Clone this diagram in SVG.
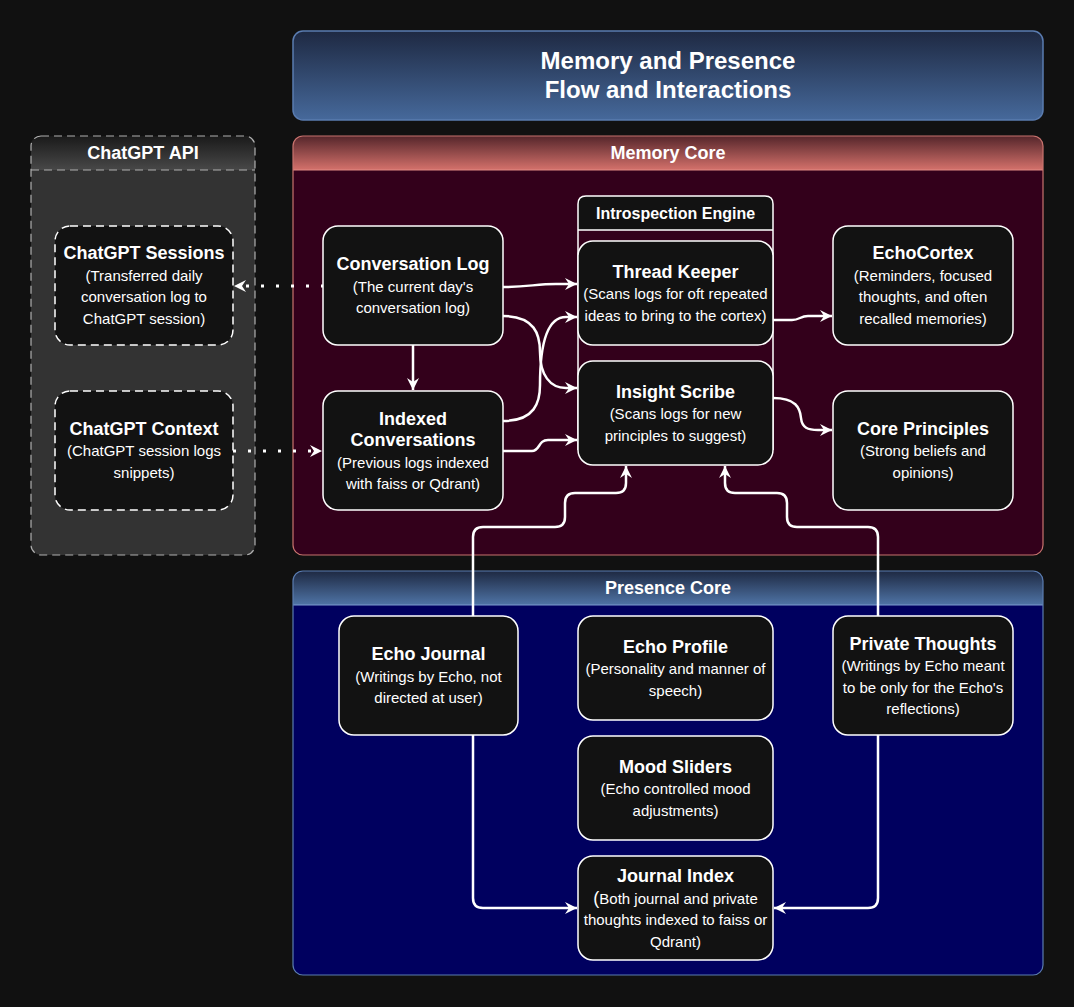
<svg xmlns="http://www.w3.org/2000/svg" width="1074" height="1007" viewBox="0 0 1074 1007">
<style>
  text { font-family: "Liberation Sans", Arial, sans-serif; fill: #ffffff; text-anchor: middle; }
  .t { font-size: 18px; font-weight: bold; }
  .d { font-size: 15px; }
  .h { font-size: 18px; font-weight: bold; }
  .node { fill: #121212; stroke: #ffffff; stroke-width: 1.5; }
  .dnode { fill: #121212; stroke: #ffffff; stroke-width: 1.5; stroke-dasharray: 8 5; }
  .edge { fill: none; stroke: #ffffff; stroke-width: 2.5; marker-end: url(#arr); }
  .dot { fill: none; stroke: #ffffff; stroke-width: 3; stroke-dasharray: 3 12; marker-end: url(#arr); }
</style>
<defs>
  <linearGradient id="gTitle" x1="0" y1="0" x2="0" y2="1">
    <stop offset="0" stop-color="#1e2942"/>
    <stop offset="1" stop-color="#46699b"/>
  </linearGradient>
  <linearGradient id="gMem" x1="0" y1="0" x2="0" y2="1">
    <stop offset="0" stop-color="#55262b"/>
    <stop offset="1" stop-color="#d4716b"/>
  </linearGradient>
  <linearGradient id="gPres" x1="0" y1="0" x2="0" y2="1">
    <stop offset="0" stop-color="#1e2942"/>
    <stop offset="1" stop-color="#4f74a6"/>
  </linearGradient>
  <linearGradient id="gApi" x1="0" y1="0" x2="0" y2="1">
    <stop offset="0" stop-color="#1a1a1a"/>
    <stop offset="1" stop-color="#484848"/>
  </linearGradient>
  <marker id="arr" viewBox="0 0 14 14" refX="13" refY="7" markerWidth="14" markerHeight="14" markerUnits="userSpaceOnUse" orient="auto">
    <path d="M1,1 L13,7 L1,13 L5,7 Z" fill="#ffffff"/>
  </marker>
</defs>
<rect x="0" y="0" width="1074" height="1007" fill="#111111"/>

<g id="title">
  <rect x="293" y="31" width="750" height="89" rx="10" fill="url(#gTitle)" stroke="#5a7cb0" stroke-width="1.5"/>
  <text x="668" y="69" style="font-size:24px;font-weight:bold">Memory and Presence</text>
  <text x="668" y="98" style="font-size:24px;font-weight:bold">Flow and Interactions</text>
</g>

<g id="chatgpt-api">
  <rect x="31" y="136" width="224" height="419" rx="10" fill="#333333"/>
  <path d="M31,170 V146 Q31,136 41,136 H245 Q255,136 255,146 V170 Z" fill="url(#gApi)"/>
  <line x1="31" y1="170" x2="255" y2="170" stroke="#b0b0b0" stroke-width="1.2" stroke-dasharray="8 5"/>
  <rect x="31" y="136" width="224" height="419" rx="10" fill="none" stroke="#b0b0b0" stroke-width="1.2" stroke-dasharray="8 5"/>
  <text class="h" x="143" y="159">ChatGPT API</text>
</g>

<g id="memory-core">
  <rect x="293" y="136" width="750" height="419" rx="10" fill="#33001b"/>
  <path d="M293,170 V146 Q293,136 303,136 H1033 Q1043,136 1043,146 V170 Z" fill="url(#gMem)"/>
  <line x1="293" y1="170" x2="1043" y2="170" stroke="#e08a84" stroke-width="1.2"/>
  <rect x="293" y="136" width="750" height="419" rx="10" fill="none" stroke="#c8736e" stroke-width="1.2"/>
  <text class="h" x="668" y="159">Memory Core</text>
</g>

<g id="presence-core">
  <rect x="293" y="571" width="750" height="404" rx="10" fill="#00005f"/>
  <path d="M293,605 V581 Q293,571 303,571 H1033 Q1043,571 1043,581 V605 Z" fill="url(#gPres)"/>
  <line x1="293" y1="605" x2="1043" y2="605" stroke="#7d9bd0" stroke-width="1.2"/>
  <rect x="293" y="571" width="750" height="404" rx="10" fill="none" stroke="#5a7cb0" stroke-width="1.2"/>
  <text class="h" x="668" y="594">Presence Core</text>
</g>

<g id="introspection-engine">
  <path d="M578,230 V204 Q578,196 586,196 H765 Q773,196 773,204 V230 Z" fill="#121212"/>
  <path d="M578,230 V204 Q578,196 586,196 H765 Q773,196 773,204 V230 M578,230 H773 M578,230 V450 M773,230 V450" fill="none" stroke="#ffffff" stroke-width="1.5"/>
  <text x="675.5" y="219" style="font-size:16px;font-weight:bold">Introspection Engine</text>
</g>

<g id="connectors">
  <path class="dot" d="M324,286 L234,286"/>
  <path class="dot" d="M233,451 L322,451"/>
  <path class="edge" d="M413,345 L413,390"/>
  <path class="edge" d="M503,287 C528,287 536,284 556,284 L577,284"/>
  <path class="edge" d="M503,316 C535,316 540,335 540,352 C540,375 550,388 566,388 L577,388"/>
  <path class="edge" d="M503,421 C535,421 540,402 540,385 C540,335 550,317 566,317 L577,317"/>
  <path class="edge" d="M503,451 L532,451 C540,451 538,440 548,440 L577,440"/>
  <path class="edge" d="M773,320 L792,320 C800,320 800,316 808,316 L832,316"/>
  <path class="edge" d="M773,398 C796,398 800,408 801,418 C802,428 808,430 818,430 L832,430"/>
  <path class="edge" d="M473,616 L473,537 Q473,527 483,527 L555,527 Q565,527 565,517 L565,503 Q565,493 575,493 L616,493 Q626,493 626,483 L626,466"/>
  <path class="edge" d="M878,616 L878,537 Q878,527 868,527 L797,527 Q787,527 787,517 L787,503 Q787,493 777,493 L735,493 Q725,493 725,483 L725,466"/>
  <path class="edge" d="M473,735 L473,898 Q473,908 483,908 L577,908"/>
  <path class="edge" d="M878,735 L878,898 Q878,908 868,908 L774,908"/>
</g>

<g id="chatgpt-sessions">
  <rect class="dnode" x="55" y="226" width="178" height="119" rx="15"/>
  <text class="t" x="144" y="259">ChatGPT Sessions</text>
  <text class="d" x="144" y="280.5">(Transferred daily</text>
  <text class="d" x="144" y="302">conversation log to</text>
  <text class="d" x="144" y="323.5">ChatGPT session)</text>
</g>

<g id="chatgpt-context">
  <rect class="dnode" x="55" y="391" width="178" height="119" rx="15"/>
  <text class="t" x="144" y="434.5">ChatGPT Context</text>
  <text class="d" x="144" y="456">(ChatGPT session logs</text>
  <text class="d" x="144" y="477.5">snippets)</text>
</g>

<g id="conversation-log">
  <rect class="node" x="323" y="226" width="180" height="119" rx="15"/>
  <text class="t" x="413" y="270">Conversation Log</text>
  <text class="d" x="413" y="291.5">(The current day's</text>
  <text class="d" x="413" y="313">conversation log)</text>
</g>

<g id="indexed-conversations">
  <rect class="node" x="323" y="391" width="180" height="119" rx="15"/>
  <text class="t" x="413" y="424.5">Indexed</text>
  <text class="t" x="413" y="446">Conversations</text>
  <text class="d" x="413" y="467.5">(Previous logs indexed</text>
  <text class="d" x="413" y="489">with faiss or Qdrant)</text>
</g>

<g id="thread-keeper">
  <rect class="node" x="578" y="241" width="195" height="104" rx="15"/>
  <text class="t" x="675.5" y="277.5">Thread Keeper</text>
  <text class="d" x="675.5" y="299">(Scans logs for oft repeated</text>
  <text class="d" x="675.5" y="320.5">ideas to bring to the cortex)</text>
</g>

<g id="insight-scribe">
  <rect class="node" x="578" y="361" width="195" height="104" rx="15"/>
  <text class="t" x="675.5" y="397.5">Insight Scribe</text>
  <text class="d" x="675.5" y="419">(Scans logs for new</text>
  <text class="d" x="675.5" y="440.5">principles to suggest)</text>
</g>

<g id="echocortex">
  <rect class="node" x="833" y="226" width="180" height="119" rx="15"/>
  <text class="t" x="923" y="259">EchoCortex</text>
  <text class="d" x="923" y="280.5">(Reminders, focused</text>
  <text class="d" x="923" y="302">thoughts, and often</text>
  <text class="d" x="923" y="323.5">recalled memories)</text>
</g>

<g id="core-principles">
  <rect class="node" x="833" y="391" width="180" height="119" rx="15"/>
  <text class="t" x="923" y="434.5">Core Principles</text>
  <text class="d" x="923" y="456">(Strong beliefs and</text>
  <text class="d" x="923" y="477.5">opinions)</text>
</g>

<g id="echo-journal">
  <rect class="node" x="339" y="616" width="179" height="119" rx="15"/>
  <text class="t" x="428.5" y="660">Echo Journal</text>
  <text class="d" x="428.5" y="681.5">(Writings by Echo, not</text>
  <text class="d" x="428.5" y="703">directed at user)</text>
</g>

<g id="echo-profile">
  <rect class="node" x="578" y="616" width="195" height="104" rx="15"/>
  <text class="t" x="675.5" y="652.5">Echo Profile</text>
  <text class="d" x="675.5" y="674">(Personality and manner of</text>
  <text class="d" x="675.5" y="695.5">speech)</text>
</g>

<g id="private-thoughts">
  <rect class="node" x="833" y="616" width="180" height="119" rx="15"/>
  <text class="t" x="923" y="649.5">Private Thoughts</text>
  <text class="d" x="923" y="671">(Writings by Echo meant</text>
  <text class="d" x="923" y="692.5">to be only for the Echo's</text>
  <text class="d" x="923" y="714">reflections)</text>
</g>

<g id="mood-sliders">
  <rect class="node" x="578" y="736" width="195" height="104" rx="15"/>
  <text class="t" x="675.5" y="772.5">Mood Sliders</text>
  <text class="d" x="675.5" y="794">(Echo controlled mood</text>
  <text class="d" x="675.5" y="815.5">adjustments)</text>
</g>

<g id="journal-index">
  <rect class="node" x="578" y="856" width="195" height="104" rx="15"/>
  <text class="t" x="675.5" y="882">Journal Index</text>
  <text class="d" x="675.5" y="903.5"><tspan style="font-size:18px">(</tspan>Both journal and private</text>
  <text class="d" x="675.5" y="925">thoughts indexed to faiss or</text>
  <text class="d" x="675.5" y="946.5">Qdrant)</text>
</g>
</svg>
